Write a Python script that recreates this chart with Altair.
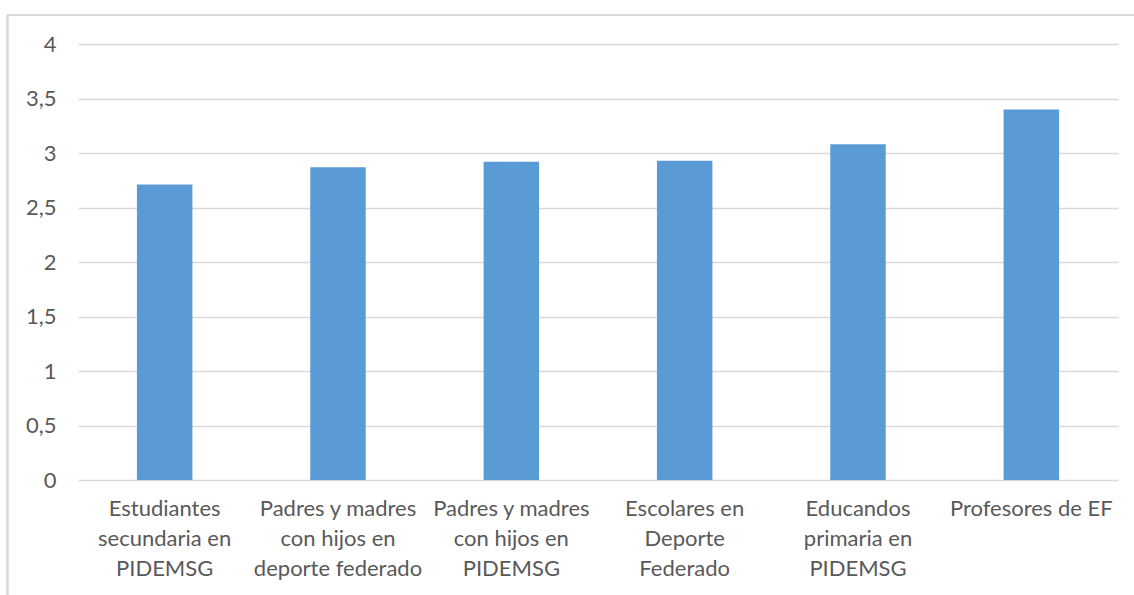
import altair as alt
import pandas as pd

categories = [
    "Estudiantes|secundaria en|PIDEMSG",
    "Padres y madres|con hijos en|deporte federado",
    "Padres y madres|con hijos en|PIDEMSG",
    "Escolares en|Deporte|Federado",
    "Educandos|primaria en|PIDEMSG",
    "Profesores de EF",
]
values = [2.71, 2.87, 2.92, 2.93, 3.08, 3.40]
y_ticks = [0, 0.5, 1, 1.5, 2, 2.5, 3, 3.5, 4]

df = pd.DataFrame({"cat": categories, "val": values})

FONT = "Lato"
TEXT = "#595959"
GRID = "#D9D9D9"

bars = alt.Chart(df).mark_bar(color="#5B9BD5", width=alt.RelativeBandSize(0.32)).encode(
    x=alt.X("cat:N", sort=categories, title=None,
            scale=alt.Scale(paddingInner=0, paddingOuter=0),
            axis=alt.Axis(labelExpr="split(datum.label, '|')", labelAngle=0,
                          labelFont=FONT, labelFontSize=22, labelColor=TEXT,
                          labelLineHeight=30, labelPadding=18, labelBaseline="top",
                          domain=False, ticks=False, grid=False, labelLimit=300)),
    y=alt.Y("val:Q", title=None,
            scale=alt.Scale(domain=[0, 4], nice=False),
            axis=alt.Axis(values=y_ticks, labelExpr="replace(format(datum.value, '~g'), '.', ',')",
                          labelFont=FONT, labelFontSize=22, labelColor=TEXT,
                          labelPadding=22, domain=False, ticks=False,
                          grid=True, gridColor=GRID, gridWidth=1.5)),
)

frame_top = alt.Chart(df).mark_rule(color=GRID, strokeWidth=1.5).encode(
    x=alt.value(-70.5), x2=alt.value(1070), y=alt.value(-29))
frame_left = alt.Chart(df).mark_rule(color=GRID, strokeWidth=1.5).encode(
    x=alt.value(-70.5), y=alt.value(-29), y2=alt.value(560))

chart = alt.layer(frame_top, frame_left, bars).properties(
    width=1040, height=436,
    autosize=alt.AutoSizeParams(type="none"),
    padding={"left": 78, "top": 44, "right": 16, "bottom": 115},
    background="white",
).configure_view(stroke=None)

chart.save("out.html", embed_options={"renderer": "svg", "actions": False})
